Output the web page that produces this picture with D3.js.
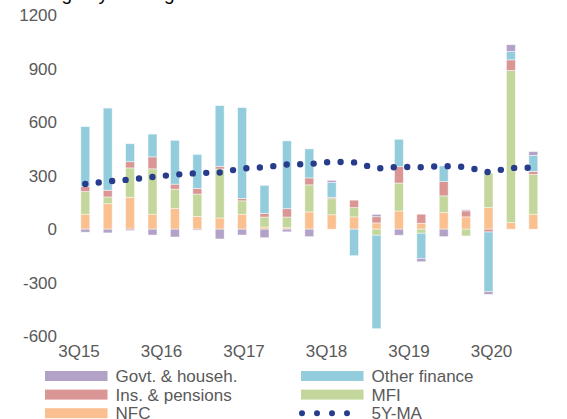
<!DOCTYPE html>
<html>
<head>
<meta charset="utf-8">
<script src="https://cdn.jsdelivr.net/npm/d3@7"></script>
<style>
  body { margin: 0; background: #fff; }
  svg { display: block; font-family: "Liberation Sans", Arial, sans-serif; }
</style>
</head>
<body>
<div id="chart"></div>
<script>
// quarters on the category axis
var quarters = ["3Q15","4Q15","1Q16","2Q16","3Q16","4Q16","1Q17","2Q17","3Q17","4Q17",
    "1Q18","2Q18","3Q18","4Q18","1Q19","2Q19","3Q19","4Q19","1Q20","2Q20","3Q20"];
var tickLabels = ["3Q15","3Q16","3Q17","3Q18","3Q19","3Q20"];
var yTicks = [-600, -300, 0, 300, 600, 900, 1200];

// series values
var nfc    = [84, 143, 179, 84, 117, 72, 63, 84, 12, 8, 97, 81, 69, 35, 102, 33, 93, 69, 121, 37, 84];
var mfi    = [127, 38, 165, 255, 108, 125, 275, 75, 56, 60, 152, 90, 52, -34, 157, -23, 94, -38, 193, 854, 223];
var ins    = [28, 38, 35, 67, 28, 32, 15, 13, 21, 47, 39, 8, 42, 35, 92, 51, 80, 34, -16, 60, 17];
var other  = [337, 461, 101, 128, 246, 191, 341, 511, 157, 381, 163, 84, -149, -525, 154, -141, 88, 0, -335, 47, 90];
var govt   = [-17, -21, -8, -33, -44, -6, -55, -33, -48, -15, -42, 11, 0, 13, -34, -19, -42, 6, -15, 38, 22];
var ma5y   = [254, 268, 279, 293, 306, 315, 318, 341, 348, 363, 366, 378, 375, 341, 350, 348, 355, 349, 320, 344, 345];

var width = 567, height = 419;

var colors = {
    nfc: "#fac090",
    mfi: "#c3d69b",
    ins: "#d99694",
    other: "#93cddd",
    govt: "#b3a2c7"
};
var lineColor = "#283c8c";
var textColor = "#595959";

var table = quarters.map(function (q, i) {
    return {q: q, nfc: nfc[i], mfi: mfi[i], ins: ins[i], other: other[i], govt: govt[i]};
});

var keys = ["nfc", "mfi", "ins", "other", "govt"];
var series = d3.stack()
    .keys(keys)
    .offset(d3.stackOffsetDiverging)(table);

var x = d3.scaleBand()
    .domain(quarters)
    .range([74.1, 544.5])
    .paddingInner(0.6)
    .paddingOuter(0.3);

// axis labels are spread a bit tighter than the bars
var xLab = d3.scalePoint()
    .domain(tickLabels)
    .range([78.5, 491]);

var y = d3.scaleLinear()
    .domain([-600, 1200])
    .range([336, 15.5]);

var svg = d3.select("#chart")
    .append("svg")
    .attr("width", width)
    .attr("height", height);

// title (mostly cut off at the top)
svg.append("text")
    .attr("x", 16)
    .attr("y", -0.5)
    .attr("font-size", 19)
    .attr("fill", "#000")
    .text("Change by holding sector");

// y axis labels
svg.append("g")
    .attr("transform", "translate(57,0)")
    .call(d3.axisLeft(y).tickValues(yTicks).tickFormat(d => String(d)).tickSize(0).tickPadding(0))
    .call(function (g) {
        g.select(".domain").remove();
        g.selectAll("text")
            .attr("font-size", 17)
            .attr("font-family", "Liberation Sans, Arial, sans-serif")
            .attr("fill", textColor);
    });

// x axis labels
svg.append("g")
    .attr("transform", "translate(0,345)")
    .call(d3.axisBottom(xLab).tickSize(0).tickPadding(0))
    .call(function (g) {
        g.select(".domain").remove();
        g.selectAll("text")
            .attr("font-size", 17)
            .attr("font-family", "Liberation Sans, Arial, sans-serif")
            .attr("fill", textColor);
    });

// stacked bars
svg.append("g")
    .selectAll("g")
    .data(series)
    .enter()
    .append("g")
    .attr("fill", d => colors[d.key])
    .selectAll("rect")
    .data(d => d)
    .enter()
    .append("rect")
    .attr("x", d => x(d.data.q))
    .attr("width", x.bandwidth())
    .attr("y", d => y(Math.max(d[0], d[1])))
    .attr("height", d => Math.abs(y(d[0]) - y(d[1])))
    .attr("stroke", "#fff")
    .attr("stroke-opacity", 0.6)
    .attr("stroke-width", 0.8);

// 5Y moving average, dotted
var line = d3.line()
    .x((d, i) => x(quarters[i]) + x.bandwidth() / 2)
    .y(d => y(d));

svg.append("path")
    .datum(ma5y)
    .attr("d", line)
    .attr("fill", "none")
    .attr("stroke", lineColor)
    .attr("stroke-width", 6.4)
    .attr("stroke-linecap", "round")
    .attr("stroke-dasharray", "0,13.5");

// legend
var legendItems = [
    {name: "Govt. & househ.", key: "govt", col: 0, row: 0},
    {name: "Ins. & pensions", key: "ins", col: 0, row: 1},
    {name: "NFC", key: "nfc", col: 0, row: 2},
    {name: "Other finance", key: "other", col: 1, row: 0},
    {name: "MFI", key: "mfi", col: 1, row: 1},
    {name: "5Y-MA", key: "ma", col: 1, row: 2}
];
var colX = [45, 301];
var rowY = [376, 394.6, 413.2];

var legend = svg.append("g")
    .selectAll("g")
    .data(legendItems)
    .enter()
    .append("g")
    .attr("transform", d => "translate(" + colX[d.col] + "," + rowY[d.row] + ")");

legend.filter(d => d.key !== "ma")
    .append("rect")
    .attr("x", 0)
    .attr("y", -5)
    .attr("width", 62.5)
    .attr("height", 10)
    .attr("fill", d => colors[d.key]);

legend.filter(d => d.key === "ma")
    .append("line")
    .attr("x1", 1)
    .attr("x2", 61)
    .attr("y1", 0)
    .attr("y2", 0)
    .attr("stroke", lineColor)
    .attr("stroke-width", 6)
    .attr("stroke-linecap", "round")
    .attr("stroke-dasharray", "0,15");

legend.append("text")
    .attr("x", 70.5)
    .attr("y", 0)
    .attr("dy", "0.35em")
    .attr("font-size", 17)
    .attr("fill", textColor)
    .text(d => d.name);
</script>
</body>
</html>
